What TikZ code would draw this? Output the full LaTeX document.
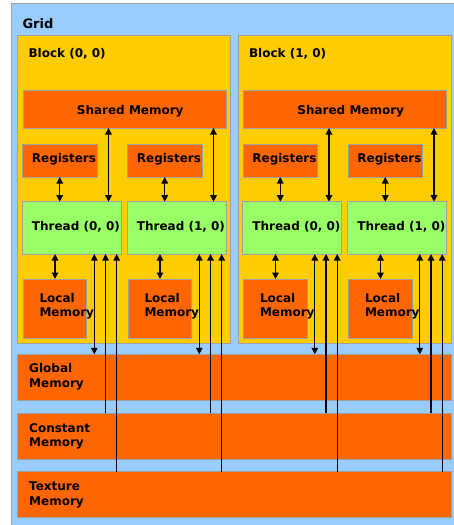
\documentclass[tikz,border=0pt]{standalone}
\usepackage{fontspec}
\setmainfont{DejaVu Sans}
\usetikzlibrary{arrows.meta,calc}
\definecolor{gridblue}{HTML}{99CCFF}
\definecolor{blockyellow}{HTML}{FFCC00}
\definecolor{memorange}{HTML}{FF6600}
\definecolor{thrgreen}{HTML}{99FF66}
\definecolor{edgegrey}{HTML}{A0A0A0}
\newcommand\drawbox[6]{\node[boxshape,fill=#2,minimum width={(#5)-(#3)},minimum height={(#6)-(#4)}] (#1) at (#3,#4) {};}
\begin{document}
\begin{tikzpicture}[x=1pt,y=-1pt,
  boxshape/.style={draw=edgegrey,line width=0.8pt,inner sep=0pt,outer sep=0pt,anchor=north west},
  lbl/.style={font=\fontsize{12}{14.5}\selectfont\bfseries,inner sep=0pt,anchor=base west,align=left},
  biarrow/.style={{Triangle[length=6.5pt,width=6.5pt]}-{Triangle[length=6.5pt,width=6.5pt]},line width=1.25pt},
  uparrow/.style={{Triangle[length=6.5pt,width=6.5pt]}-,line width=1.25pt}]
\useasboundingbox (0,0) rectangle (454,525);
\fill[white] (0,0) rectangle (454,525);
\drawbox{grid}{gridblue}{11}{3.5}{460}{532}
\node[lbl,font=\fontsize{13}{15}\selectfont\bfseries] (gridlbl) at (22.3,28.3) {Grid};
% global memories
\drawbox{glob}{memorange}{17.5}{354.3}{451}{400.3}
\drawbox{const}{memorange}{17.5}{413.3}{451}{459}
\drawbox{tex}{memorange}{17.5}{471.7}{451}{517.3}
\node[lbl] (globlbl) at (29,387) {Global\\Memory};
\node[lbl] (constlbl) at (29,446.5) {Constant\\Memory};
\node[lbl] (texlbl) at (29,505) {Texture\\Memory};
\foreach \b/\ox in {0/0,1/220.5}{
  \drawbox{blk\b}{blockyellow}{17.5+\ox}{35}{230.5+\ox}{343.5}
  \node[lbl] (blklbl\b) at (28.3+\ox,57.5) {Block (\b, 0)};
  \drawbox{sh\b}{memorange}{23+\ox}{90}{226.3+\ox}{128}
  \node[lbl] (shlbl\b) at (76.7+\ox,114) {Shared Memory};
  \foreach \t/\tx in {0/0,1/105}{
    \drawbox{reg\b\t}{memorange}{22.5+\ox+\tx}{144.7}{97+\ox+\tx}{177}
    \node[lbl] (reglbl\b\t) at (31.7+\ox+\tx,162.5) {Registers};
    \drawbox{thr\b\t}{thrgreen}{22.3+\ox+\tx}{201.7}{121+\ox+\tx}{254}
    \node[lbl] (thrlbl\b\t) at (31.7+\ox+\tx,230.5) {Thread (\t, 0)};
    \drawbox{loc\b\t}{memorange}{23.3+\ox+\tx}{279}{86.7+\ox+\tx}{338.3}
    \node[lbl] (loclbl\b\t) at (39.3+\ox+\tx,316.5) {Local\\Memory};
    \draw[biarrow] (reg\b\t.south) -- (reg\b\t.south |- thr\b\t.north);
    \draw[biarrow] ([xshift=-12.5pt]thr\b\t.north east) -- ([xshift=-12.5pt]thr\b\t.north east |- sh\b.south);
    \draw[biarrow] (loc\b\t.north) -- (loc\b\t.north |- thr\b\t.south);
    \draw[biarrow] ([xshift=-26.7pt]thr\b\t.south east) -- ([xshift=-26.7pt]thr\b\t.south east |- glob.north);
    \draw[uparrow] ([xshift=-15.5pt]thr\b\t.south east) -- ([xshift=-15.5pt]thr\b\t.south east |- const.north);
    \draw[uparrow] ([xshift=-4.3pt]thr\b\t.south east) -- ([xshift=-4.3pt]thr\b\t.south east |- tex.north);
  }
}
\end{tikzpicture}
\end{document}
